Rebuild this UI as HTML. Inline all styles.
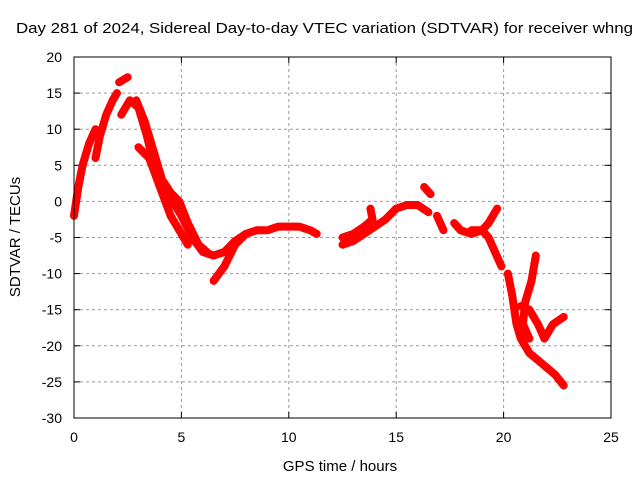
<!DOCTYPE html>
<html><head><meta charset="utf-8"><style>
body{margin:0;background:#fff;}
svg text{font-family:"Liberation Sans",sans-serif;fill:#000;}
</style></head><body>
<svg id="chart" width="640" height="480" xmlns="http://www.w3.org/2000/svg">
<text x="16" y="33" font-size="15" textLength="617" lengthAdjust="spacingAndGlyphs">Day 281 of 2024, Sidereal Day-to-day VTEC variation (SDTVAR) for receiver whng</text>
<g id="grid"></g>
<g id="ticks"></g>
<g id="series"></g>
<rect x="74" y="57" width="537" height="361" fill="none" stroke="#000" stroke-width="1"/>
<text x="340" y="471" font-size="15" text-anchor="middle">GPS time / hours</text>
<text transform="translate(20,237) rotate(-90)" font-size="15" text-anchor="middle">SDTVAR / TECUs</text>
</svg>
<script>
const xTicks=[0,5,10,15,20,25];
const yTicks=[20,15,10,5,0,-5,-10,-15,-20,-25,-30];
const arcA=[[0,-2],[0.2,2],[0.4,5],[0.7,8],[1.0,10]];
const arcB=[[1.0,6],[1.2,9],[1.5,12],[1.8,14],[2.0,15]];
const arcC=[[2.1,16.5],[2.5,17.2]];
const arcD=[[2.2,12],[2.6,14],[3.0,13],[3.4,9],[3.8,4],[4.2,1],[4.6,0],[5.0,-2],[5.5,-5],[6.0,-7],[6.5,-7.5],[7,-7],[7.5,-5.5],[8,-4.5]];
const arcD2=[[2.9,14],[3.3,11],[3.7,7],[4.1,3],[4.5,1.2],[4.9,0],[5.3,-3],[5.8,-6],[6.3,-7.3]];
const arcE=[[3.0,7.5],[3.5,6],[4.0,2],[4.5,-2],[5.0,-4.5],[5.3,-6]];
const arcF=[[6.5,-11],[7,-9],[7.5,-6],[8,-4.5],[8.5,-4],[9,-4],[9.5,-3.5],[10,-3.5],[10.5,-3.5],[11,-4],[11.3,-4.5]];
const arcG=[[12.5,-6],[13,-5.5],[13.5,-4.5],[14,-3.5],[14.5,-2.5],[15,-1],[15.5,-0.5],[16,-0.5],[16.5,-1.5]];
const arcH=[[12.5,-5],[13,-4.5],[13.5,-3.5],[13.9,-2.5],[13.8,-1]];
const arcI=[[16.3,2],[16.6,1]];
const arcJ=[[16.9,-2],[17.2,-4]];
const arcK=[[17.7,-3],[18,-4],[18.5,-4.5],[19,-4],[19.3,-3],[19.7,-1]];
const arcL=[[18.5,-4],[19,-4],[19.3,-5],[19.6,-7],[19.9,-9]];
const arcM=[[20.2,-10],[20.4,-13],[20.6,-17],[20.8,-19],[21.2,-21],[21.6,-22],[22,-23],[22.4,-24],[22.8,-25.5]];
const arcN=[[21.5,-7.5],[21.3,-11],[21.0,-14],[20.9,-17],[21.2,-19]];
const arcO=[[20.8,-14.5],[21.2,-15],[21.6,-17],[21.9,-19],[22.3,-17],[22.8,-16]];
const arcs=[arcA,arcB,arcC,arcD,arcD2,arcE,arcF,arcG,arcH,arcI,arcJ,arcK,arcL,arcM,arcN,arcO];
const X0=74,X1=611,Y0=57,Y1=418;
function sx(h){return X0+(h-0)/(25-0)*(X1-X0);}
function sy(v){return Y0+(20-v)/(20-(-30))*(Y1-Y0);}
const NS='http://www.w3.org/2000/svg';
const grid=document.getElementById('grid'),ticks=document.getElementById('ticks'),series=document.getElementById('series');
function mk(t,a,p){const e=document.createElementNS(NS,t);for(const k in a)e.setAttribute(k,a[k]);p.appendChild(e);return e;}
xTicks.forEach(t=>{const x=sx(t);
 if(t>0&&t<25){const g=mk('line',{x1:x,x2:x,y1:Y0,y2:Y1,stroke:'#999','stroke-dasharray':'3,3'},grid);
 
 }
 const l=mk('text',{x:x,y:Y1+24,'font-size':14,'text-anchor':'middle'},ticks);l.textContent=t;
 
 
 mk('line',{x1:x,x2:x,y1:Y1,y2:Y1-6,stroke:'#000'},ticks);mk('line',{x1:x,x2:x,y1:Y0,y2:Y0+6,stroke:'#000'},ticks);});
yTicks.forEach(t=>{const y=sy(t);
 if(t<20&&t>-30){const g=mk('line',{x1:X0,x2:X1,y1:y,y2:y,stroke:'#999','stroke-dasharray':'3,3'},grid);
 
 }
 const l=mk('text',{x:X0-12,y:y+5,'font-size':14,'text-anchor':'end'},ticks);l.textContent=t;
 
 
 mk('line',{x1:X0,x2:X0+6,y1:y,y2:y,stroke:'#000'},ticks);mk('line',{x1:X1,x2:X1-6,y1:y,y2:y,stroke:'#000'},ticks);});
arcs.forEach(a=>{const p=mk('polyline',{points:a.map(d=>sx(d[0])+','+sy(d[1])).join(' '),fill:'none',stroke:'#ff0000','stroke-width':8,'stroke-linejoin':'round','stroke-linecap':'round'},series);
 
 });
</script>
</body></html>
